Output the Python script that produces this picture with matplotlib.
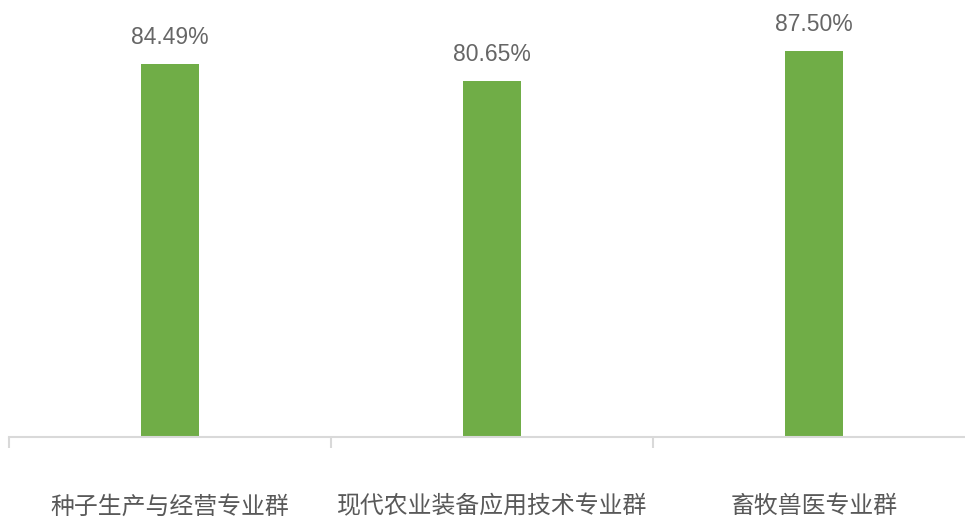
import matplotlib
matplotlib.use("Agg")
import matplotlib.pyplot as plt
from matplotlib.ticker import FixedLocator

categories = ["种子生产与经营专业群", "现代农业装备应用技术专业群", "畜牧兽医专业群"]
values = [84.49, 80.65, 87.50]
labels = ["84.49%", "80.65%", "87.50%"]

W, H = 965, 519
fig = plt.figure(figsize=(W / 100, H / 100), dpi=100)
base = 437
top = base - 0.9 * 441
ax = fig.add_axes([9 / W, (H - base) / H, 966 / W, (base - top) / H])

x = list(range(len(categories)))
ax.bar(x, [v / 100 for v in values], width=0.18, color="#70AD47")
ax.set_xlim(-0.5, len(categories) - 0.5)
ax.set_ylim(0, 0.9)

for xi, v, lab in zip(x, values, labels):
    ax.annotate(lab, (xi, v / 100), xytext=(0, 11), textcoords="offset points",
                ha="center", va="bottom", fontsize=16.5, color="#666666",
                family=["Liberation Sans Narrow", "Liberation Sans", "DejaVu Sans"],
                clip_on=False, annotation_clip=False)

for s in ["top", "right", "left"]:
    ax.spines[s].set_visible(False)
ax.spines["bottom"].set_color("#D9D9D9")
ax.spines["bottom"].set_linewidth(1.5)
ax.set_yticks([])
ax.set_xticks(x)
ax.set_xticklabels(categories, fontsize=17.2, color="#595959",
                   family=["Noto Sans CJK SC", "DejaVu Sans"])
ax.tick_params(axis="x", which="major", length=0, pad=42)
ax.xaxis.set_minor_locator(FixedLocator([-0.5, 0.5, 1.5, 2.5]))
ax.tick_params(axis="x", which="minor", length=8, width=1.5, color="#D9D9D9")

fig.savefig("out.png", dpi=100)
